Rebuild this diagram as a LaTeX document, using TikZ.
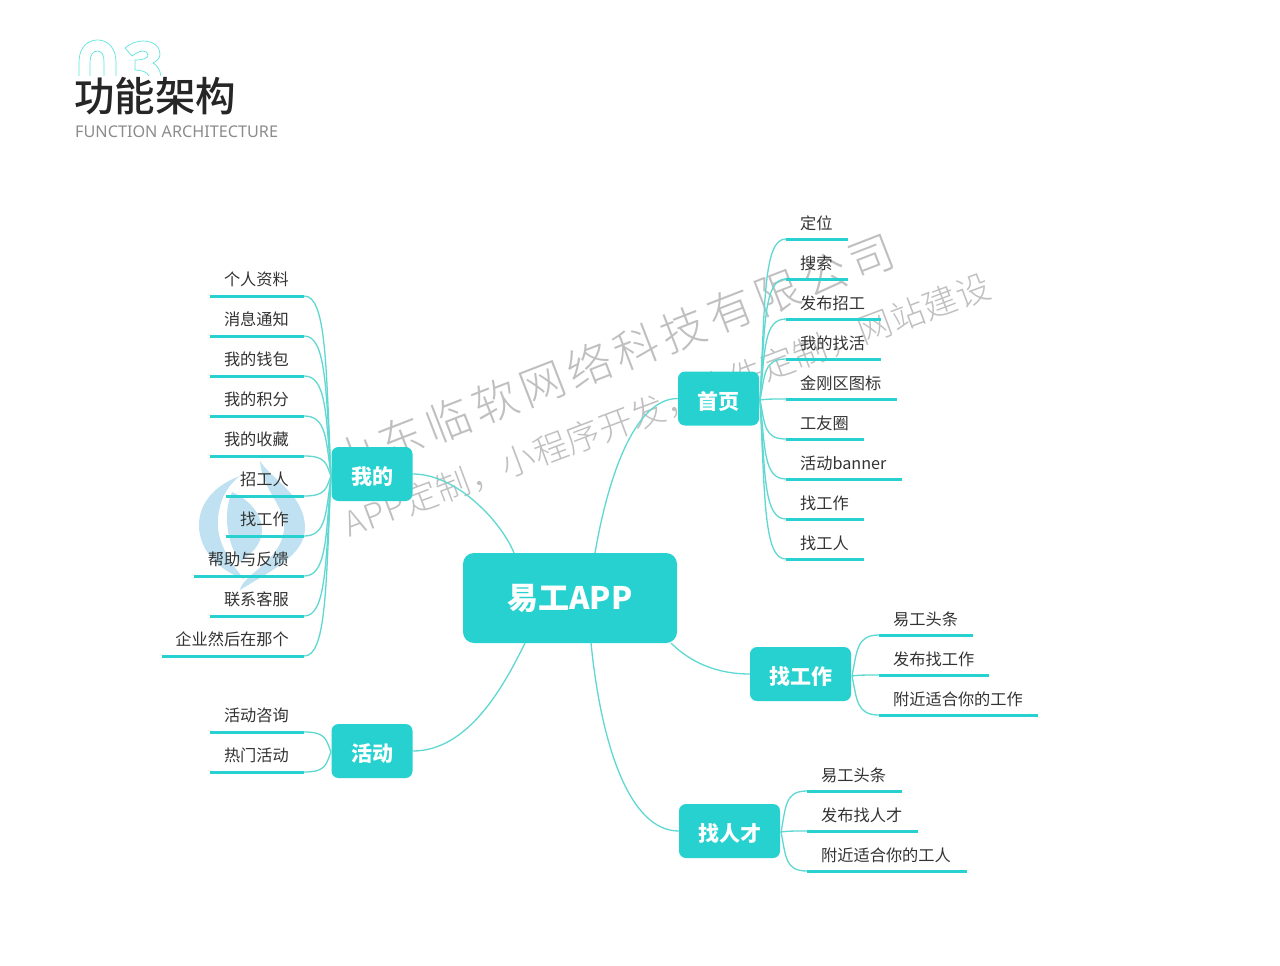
\documentclass[tikz,border=0pt]{standalone}
\usepackage{fontspec}
\usetikzlibrary{calc}
\setmainfont{Noto Sans CJK SC}
\newfontfamily\wmfont{Noto Sans CJK SC Light}[LetterSpace=12]
\newfontfamily\wmfontb{Noto Sans CJK SC Light}[LetterSpace=2]
\newfontfamily\titlefont{Noto Sans CJK SC Medium}
\newfontfamily\subfont{Noto Sans}
\definecolor{teal1}{HTML}{26D1D0}
\definecolor{branchc}{HTML}{5FD8D2}
\definecolor{zeroc}{HTML}{5FE3DC}
\definecolor{txt}{HTML}{333333}
\definecolor{wm}{HTML}{B0B0B0}
\definecolor{logoc}{HTML}{BFE1F1}
\tikzset{
  boxbase/.style={fill=teal1,inner sep=0pt,text=white},
  hubbox/.style={boxbase,rounded corners=7pt,text height=21pt,text depth=0pt,font=\bfseries\fontsize{21}{21}\selectfont},
  rootbox/.style={boxbase,rounded corners=11pt,font=\bfseries\fontsize{31}{31}\selectfont},
  rulebar/.style={fill=teal1,inner sep=0pt,minimum height=3pt,draw=none},
  branch/.style={draw=branchc,line width=1.3pt},
  zerostroke/.style={draw=zeroc,line width=.7pt},
  leaftext/.style={text=txt,inner sep=0pt,font=\fontsize{16.2}{16.2}\selectfont},
  wmtext/.style={text=wm,opacity=.8,inner sep=0pt},
}
% left leaf: hub, name, text, x1, y, hub y
\newcommand{\leafL}[6]{%
  \pgfmathsetmacro{\ww}{304-#4}
  \node[rulebar,minimum width=\ww pt] (#2) at ({(#4+304)/2},#5) {};
  \node[leaftext,anchor=east] (#2t) at (289,#5-17) {#3};
  \pgfmathsetmacro{\dd}{(#5-#6)*0.62}
  \draw[branch] (#1) .. controls +(-5,\dd) and +(22,0) .. (#2.east);
}
% right leaf: hub, name, text, x1, x2, y, hub y
\newcommand{\leafR}[7]{%
  \pgfmathsetmacro{\ww}{#5-#4}
  \node[rulebar,minimum width=\ww pt] (#2) at ({(#4+#5)/2},#6) {};
  \node[leaftext,anchor=west] (#2t) at (#4+14,#6-16) {#3};
  \pgfmathsetmacro{\dd}{(#6-#7)*0.62}
  \draw[branch] (#1) .. controls +(5,\dd) and +(-22,0) .. (#2.west);
}
\begin{document}
\begin{tikzpicture}[x=1pt,y=-1pt]
\useasboundingbox (0,0) rectangle (1280,966);
\fill[white] (0,0) rectangle (1280,966);
% big outlined 03
\begin{scope}
\clip (60,30) rectangle (175,76);
\draw[zerostroke] (79,78) -- (79,62) .. controls (79,48) and (87,40) .. (97.5,40) .. controls (108,40) and (116,48) .. (116,62) -- (116,78);
\draw[zerostroke] (90,78) -- (90,62) .. controls (90,55) and (93,51) .. (97.5,51) .. controls (102,51) and (104,55) .. (104,62) -- (104,78);
\draw[zerostroke] (125,48) .. controls (131,43) and (137,41) .. (143,41) .. controls (154,41) and (160,47) .. (160,54) .. controls (160,58) and (157,61) .. (153,63) .. controls (157,65) and (160,70) .. (161,76);
\draw[zerostroke] (125,48) -- (132,56) .. controls (136,53) and (140,51) .. (143,51) .. controls (146,51) and (148,53) .. (148,55) .. controls (148,58) and (144,60) .. (135,60) -- (135,70) .. controls (142,70) and (147,72) .. (149,76);
\end{scope}
\node[anchor=west,inner sep=0pt,text=black!85,font=\titlefont\fontsize{40.5}{40.5}\selectfont] (title) at (74,96) {功能架构};
\node[anchor=west,inner sep=0pt,text=black!45,font=\subfont\fontsize{16.2}{16.2}\selectfont] (subtitle) at (75,132) {FUNCTION ARCHITECTURE};
% logo watermark
\fill[logoc] (240,476) .. controls (215,485) and (199,503) .. (199,525) .. controls (199,550) and (218,570) .. (244,579) .. controls (228,560) and (216,540) .. (218,518) .. controls (220,498) and (228,485) .. (240,476) -- cycle;
\fill[logoc] (260,461) .. controls (272,480) and (305,495) .. (305,528) .. controls (305,555) and (272,570) .. (240,590) .. controls (242,575) and (283,560) .. (284,528) .. controls (285,505) and (262,490) .. (260,461) -- cycle;
\fill[logoc] (232,492) .. controls (250,500) and (262,515) .. (262,530) .. controls (262,545) and (250,555) .. (240,562) .. controls (228,545) and (222,515) .. (232,492) -- cycle;
% text watermark
\node[wmtext,rotate=21.2,font=\wmfont\fontsize{45}{45}\selectfont] (wm1) at (613,356) {山东临软网络科技有限公司};
\node[wmtext,rotate=20.6,font=\wmfontb\fontsize{34}{34}\selectfont] (wm2) at (667,405) {APP定制，小程序开发，软件定制，网站建设};
% boxes
\node[rootbox,minimum width=214pt,minimum height=90pt] (root) at (570,598) {易工APP};
\node[hubbox,minimum width=81pt,minimum height=54pt] (mine) at (372,474) {我的};
\node[hubbox,minimum width=81pt,minimum height=54pt] (act) at (372,751) {活动};
\node[hubbox,minimum width=81pt,minimum height=54pt] (home) at (718.5,398.5) {首页};
\node[hubbox,minimum width=101pt,minimum height=54pt] (job) at (800.5,674) {找工作};
\node[hubbox,minimum width=101pt,minimum height=54pt] (tal) at (729.5,831) {找人才};
% root anchors
\coordinate (r1) at (514,553);
\coordinate (r2) at (595,553);
\coordinate (r3) at (671,643);
\coordinate (r4) at (525,643);
\coordinate (r5) at (591,643);
\draw[branch] (mine.east) .. controls +(45,0) and +(-12,-30) .. (r1);
\draw[branch] (home.west) .. controls +(-45,0) and +(12,-70) .. (r2);
\draw[branch] (job.west) .. controls +(-40,0) and +(14,14) .. (r3);
\draw[branch] (act.east) .. controls +(55,0) and +(-22,45) .. (r4);
\draw[branch] (tal.west) .. controls +(-50,0) and +(10,100) .. (r5);
% hubs for leaves
\coordinate (hm) at (331,476);
\coordinate (ha) at (331,752);
\coordinate (hh) at (760,400);
\coordinate (hj) at (852,676);
\coordinate (ht) at (781,832);
\leafL{hm}{m1}{个人资料}{210}{296}{476}
\leafL{hm}{m2}{消息通知}{210}{336}{476}
\leafL{hm}{m3}{我的钱包}{210}{376}{476}
\leafL{hm}{m4}{我的积分}{210}{416}{476}
\leafL{hm}{m5}{我的收藏}{210}{456}{476}
\leafL{hm}{m6}{招工人}{226}{496}{476}
\leafL{hm}{m7}{找工作}{226}{536}{476}
\leafL{hm}{m8}{帮助与反馈}{194}{576}{476}
\leafL{hm}{m9}{联系客服}{210}{616}{476}
\leafL{hm}{m10}{企业然后在那个}{162}{656}{476}
\leafL{ha}{a1}{活动咨询}{210}{732}{752}
\leafL{ha}{a2}{热门活动}{210}{772}{752}
\leafR{hh}{h1}{定位}{786}{848}{239}{400}
\leafR{hh}{h2}{搜索}{786}{848}{279}{400}
\leafR{hh}{h3}{发布招工}{786}{881}{319}{400}
\leafR{hh}{h4}{我的找活}{786}{881}{359}{400}
\leafR{hh}{h5}{金刚区图标}{786}{897}{399}{400}
\leafR{hh}{h6}{工友圈}{786}{864}{439}{400}
\leafR{hh}{h7}{活动banner}{786}{902}{479}{400}
\leafR{hh}{h8}{找工作}{786}{864}{519}{400}
\leafR{hh}{h9}{找工人}{786}{864}{559}{400}
\leafR{hj}{j1}{易工头条}{879}{973}{635}{676}
\leafR{hj}{j2}{发布找工作}{879}{989}{675}{676}
\leafR{hj}{j3}{附近适合你的工作}{879}{1038}{715}{676}
\leafR{ht}{t1}{易工头条}{807}{902}{791}{832}
\leafR{ht}{t2}{发布找人才}{807}{918}{831}{832}
\leafR{ht}{t3}{附近适合你的工人}{807}{967}{871}{832}
\end{tikzpicture}
\end{document}
